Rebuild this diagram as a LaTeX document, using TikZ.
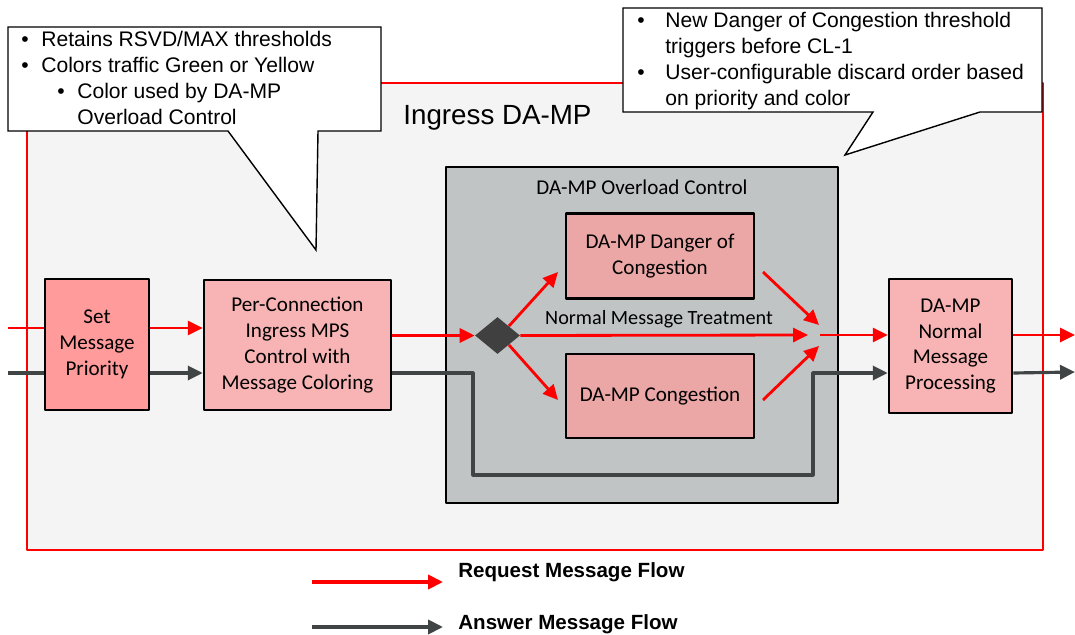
\documentclass[tikz,border=0pt]{standalone}
\usepackage{fontspec}
\setmainfont{Liberation Sans}
\newfontfamily\boxfont{Carlito}
\usetikzlibrary{shapes.geometric,arrows.meta}
\definecolor{reqred}{RGB}{255,0,0}
\definecolor{ansgray}{RGB}{64,68,68}
\definecolor{pinkA}{RGB}{255,155,155}
\definecolor{pinkB}{RGB}{248,180,180}
\definecolor{pinkC}{RGB}{235,166,166}
\definecolor{ocgray}{RGB}{192,196,196}
\definecolor{bggray}{RGB}{244,244,244}
\definecolor{diagray}{RGB}{64,64,64}
\tikzset{
	msgbox/.style={draw=black,line width=1.5pt,align=center,inner sep=0pt,
		font=\boxfont\fontsize{12}{14.7}\selectfont},
	req/.style={draw=reqred,line width=1.6pt},
	ans/.style={draw=ansgray,line width=1.8pt},
	callout/.style={draw=black,fill=white,line width=0.8pt,line join=miter},
	calltext/.style={anchor=base west,inner sep=0pt,font=\fontsize{12}{14.7}\selectfont},
}
\begin{document}
\begin{tikzpicture}[x=0.02cm,y=-0.02cm,>={Triangle[length=8.5pt,width=8pt]},line join=round]
			\useasboundingbox (0,0) rectangle (1075,635);
			% ingress frame
			\draw[reqred,fill=bggray,line width=0.8pt] (27,83) rectangle (1043,550);
			\node[anchor=base west,inner sep=0pt,font=\fontsize{15.8}{19}\selectfont] (ingress) at (403,125) {Ingress DA-MP};
			\node[msgbox,fill=ocgray,line width=1.6pt,minimum width=7.84cm,minimum height=6.72cm] (olc) at (642,335) {};
			\node[font=\boxfont\fontsize{12}{14}\selectfont] (olctitle) at (642,187) {DA-MP Overload Control};
			% boxes
			\node[msgbox,fill=pinkA,minimum width=2.08cm,minimum height=2.62cm] (setp) at (97,344.5) {Set\\Message\\Priority};
			\node[msgbox,fill=pinkB,minimum width=3.74cm,minimum height=2.6cm] (perc) at (297.5,345) {Per-Connection\\Ingress MPS\\Control with\\Message Coloring};
			\node[msgbox,fill=pinkC,minimum width=3.76cm,minimum height=1.7cm] (doc) at (660,256) {DA-MP Danger of\\Congestion};
			\node[msgbox,fill=pinkC,minimum width=3.76cm,minimum height=1.68cm] (cong) at (660,396) {DA-MP Congestion};
			\node[msgbox,fill=pinkB,minimum width=2.46cm,minimum height=2.68cm] (norm) at (950.5,346) {DA-MP\\Normal\\Message\\Processing};
			\node[diamond,fill=diagray,inner sep=0pt,minimum width=0.9cm,minimum height=0.74cm] (dia) at (497.5,335.5) {};
			\node[font=\boxfont\fontsize{11.5}{14}\selectfont] (nmt) at (659,319) {Normal Message Treatment};
			\path
			(8,328)coordinate(inR)
			(8,373)coordinate(inA)
			(473,373)coordinate(a1)
			(473,475)coordinate(a2)
			(813,475)coordinate(a3)
			(813,373)coordinate(a4)
			(558,272)coordinate(toDoc)
			(558,400)coordinate(toCong)
			(763,272)coordinate(fromDoc)
			(763,400)coordinate(fromCong)
			(819,325)coordinate(mgN)
			(819,346)coordinate(mgS)
			(808,335)coordinate(mgW)
			(820,335)coordinate(mgE)
			(1075,335)coordinate(outR)
			(1075,372)coordinate(outA)
			;
			% request flow
			\draw[req] (inR)--(inR-|setp.west);
			\draw[req,->] (setp.east|-inR)--(perc.west|-inR);
			\draw[req,->] (perc.east|-dia)--(dia.west);
			\foreach \a/\b in {dia.north east/toDoc,dia.south east/toCong,dia.east/mgW,fromDoc/mgN,fromCong/mgS} \draw[req,->](\a)--(\b);
			\draw[req,->] (mgE)--(norm.west|-mgE);
			\draw[req,->] (norm.east|-mgE)--(outR);
			% answer flow
			\draw[ans] (inA)--(inA-|setp.west);
			\draw[ans,->] (setp.east|-inA)--(perc.west|-inA);
			\draw[ans,->] (perc.east|-inA)--(a1)--(a2)--(a3)--(a4)--(norm.west|-a4);
			\draw[ans,->] (norm.east|-a4)--(outA);
			% callouts
			\draw[callout] (8,27)--(381,27)--(381,131)--(318,131)--(316,250)--(228,131)--(8,131)--cycle;
			\draw[callout] (623,8)--(1042,8)--(1042,112)--(980,112)--(845,155)--(873,112)--(623,112)--cycle;
			\foreach \x/\y [count=\i] in {21/47,21/73,57/99,637/28,637/80} \node[calltext](bul\i) at (\x,\y) {\textbullet};
			\foreach \n/\x/\y/\t in {r1/41/47/{Retains RSVD/MAX thresholds},r2/41/73/{Colors traffic Green or Yellow},r3/77/99/{Color used by DA-MP},r4/77/125/{Overload Control},
				n1/665/28/{New Danger of Congestion threshold},n2/665/54/{triggers before CL-1},n3/665/80/{User-configurable discard order based},n4/665/106/{on priority and color}}
			\node[calltext](\n) at (\x,\y) {\t};
			% legend
			\path
			(312,582)coordinate(lgR0)
			(443,582)coordinate(lgR1)
			(312,627)coordinate(lgA0)
			(443,627)coordinate(lgA1)
			;
			\draw[req,->,line width=2pt] (lgR0)--(lgR1);
			\draw[ans,->,line width=2pt] (lgA0)--(lgA1);
			\node[anchor=base west,inner sep=0pt,font=\bfseries\fontsize{11.7}{14}\selectfont] (lgReq) at (458,577) {Request Message Flow};
			\node[anchor=base west,inner sep=0pt,font=\bfseries\fontsize{11.7}{14}\selectfont] (lgAns) at (458,629) {Answer Message Flow};
\end{tikzpicture}
\end{document}
